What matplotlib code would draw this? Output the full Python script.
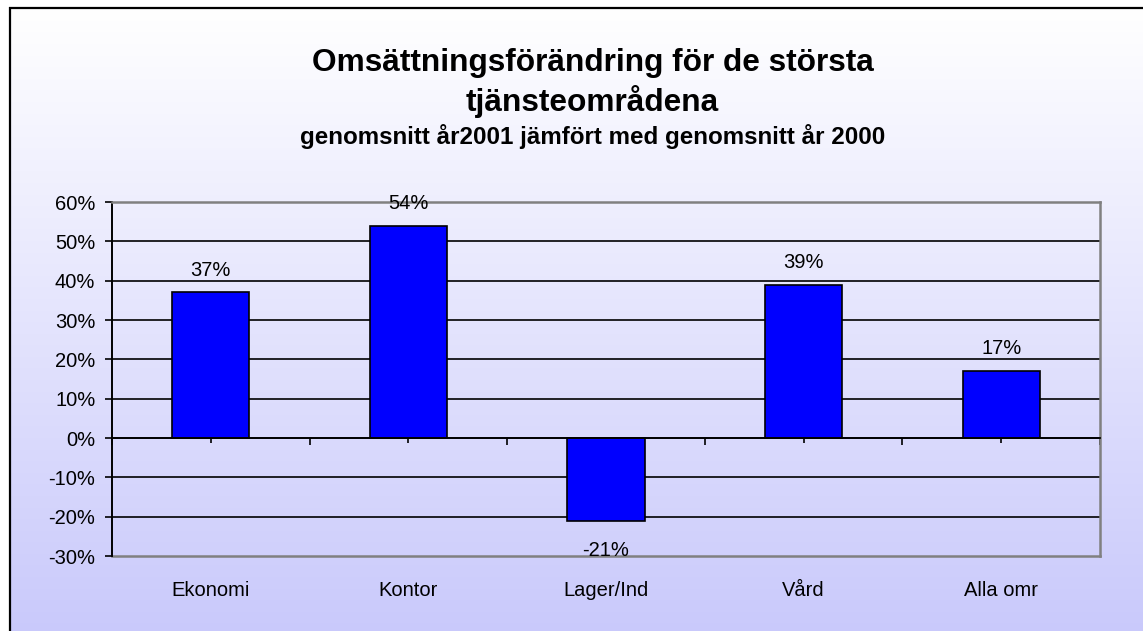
import numpy as np
import matplotlib
matplotlib.use("Agg")
import matplotlib.pyplot as plt
from matplotlib.lines import Line2D
from matplotlib.transforms import blended_transform_factory

categories = ["Ekonomi", "Kontor", "Lager/Ind", "Vård", "Alla omr"]
values = [37, 54, -21, 39, 17]
yticks = [-30, -20, -10, 0, 10, 20, 30, 40, 50, 60]
title_line1 = "Omsättningsförändring för de största"
title_line2 = "tjänsteområdena"
subtitle = "genomsnitt år2001 jämfört med genomsnitt år 2000"

plt.rcParams['font.family'] = ['Liberation Sans', 'DejaVu Sans']

W, H = 1143, 631
fig = plt.figure(figsize=(W / 100, H / 100), dpi=100)
fig.patch.set_facecolor("white")

# background gradient panel
bg = fig.add_axes([0, 0, 1, 1])
bg.set_xlim(0, W)
bg.set_ylim(H, 0)
bg.axis("off")
top = np.array([1.0, 1.0, 1.0])
bot = np.array([0.79, 0.79, 0.985])
t = np.linspace(0, 1, 256)[:, None]
grad = (top * (1 - t) + bot * t)[:, None, :]
bg.imshow(grad, extent=[10, W, H, 8], aspect="auto", interpolation="bilinear", zorder=0)
bg.plot([10, 10], [7, H], color="black", lw=1.6, zorder=2, solid_capstyle="butt")
bg.plot([9, W], [7.5, 7.5], color="black", lw=1.6, zorder=2, solid_capstyle="butt")

# main plot
L, R, T, B = 112, 1100, 202, 556
ax = fig.add_axes([L / W, 1 - B / H, (R - L) / W, (B - T) / H])
ax.patch.set_alpha(0)

x = np.arange(len(categories))
ax.bar(x, values, width=0.39, color="#0000FF", edgecolor="black", linewidth=1.2, zorder=3)

ax.set_xlim(-0.5, len(categories) - 0.5)
ax.set_ylim(min(yticks), max(yticks))
ax.set_yticks(yticks)
ax.set_yticklabels([f"{v}%" for v in yticks], fontsize=14.5)
ax.tick_params(axis="y", direction="out", length=5, width=1.2, pad=7, color="black")

for v in yticks[1:-1]:
    ax.axhline(v, color="black", lw=1.2, zorder=1)

# spines
ax.spines["left"].set_color("black")
ax.spines["left"].set_linewidth(1.4)
for s in ["top", "right"]:
    ax.spines[s].set_color("#808080")
    ax.spines[s].set_linewidth(1.8)
ax.spines["bottom"].set_position(("data", 0))
ax.spines["bottom"].set_color("black")
ax.spines["bottom"].set_linewidth(1.3)
ax.spines["bottom"].set_zorder(4)
ax.add_line(Line2D([0, 1], [0, 0], transform=ax.transAxes, color="#808080", lw=1.8, clip_on=False))

ax.set_xticks(np.arange(len(categories) + 1) - 0.5)
ax.set_xticks(x, minor=True)
ax.tick_params(axis="x", which="major", direction="out", length=5, width=1.2, labelbottom=False)
ax.tick_params(axis="x", which="minor", direction="out", length=3.5, width=1.2, labelbottom=False)

btr = blended_transform_factory(ax.transData, ax.transAxes)
for i, c in enumerate(categories):
    ax.text(i, -0.112, c, transform=btr, ha="center", va="baseline", fontsize=14.5)

for i, v in enumerate(values):
    if v >= 0:
        ax.annotate(f"{v}%", (i, v), xytext=(0, 12), textcoords="offset points",
                    ha="center", va="baseline", fontsize=14.5, zorder=5)
    else:
        ax.annotate(f"{v}%", (i, v), xytext=(0, -25.5), textcoords="offset points",
                    ha="center", va="baseline", fontsize=14.5, zorder=5)

cx = 0.5185
fig.text(cx, 1 - 70.5 / H, title_line1, ha="center", va="baseline", fontsize=22.8, fontweight="bold")
fig.text(cx, 1 - 111 / H, title_line2, ha="center", va="baseline", fontsize=22.8, fontweight="bold")
fig.text(cx, 1 - 144.5 / H, subtitle, ha="center", va="baseline", fontsize=17.4, fontweight="bold")

fig.savefig("out.png", dpi=100)
